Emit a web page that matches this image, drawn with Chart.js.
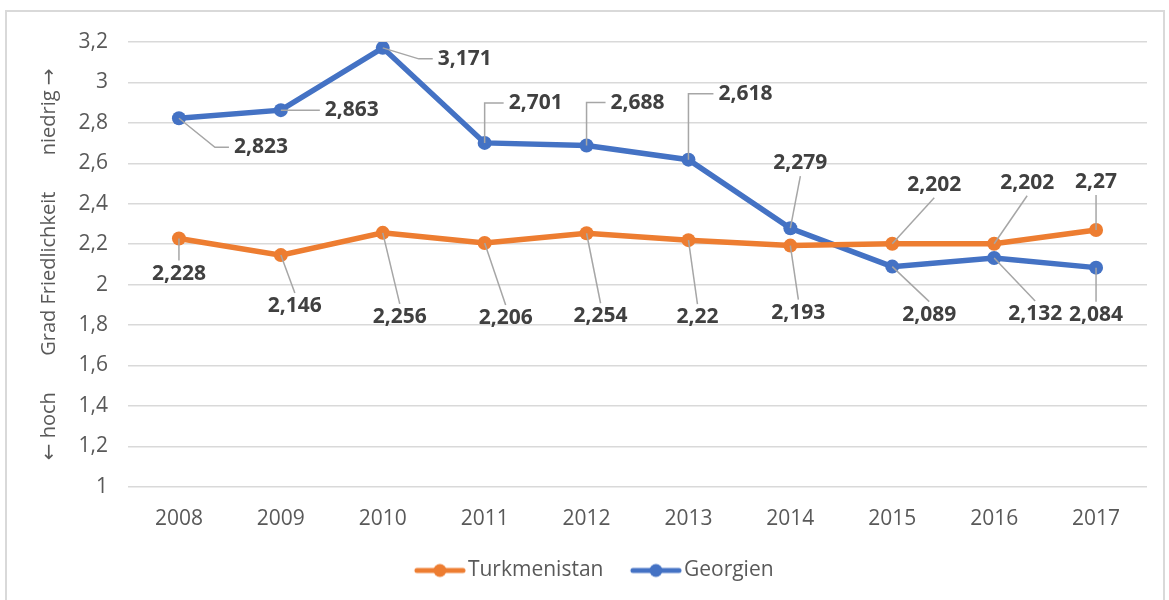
<!DOCTYPE html>
<html>
<head>
<meta charset="utf-8">
<script src="https://cdn.jsdelivr.net/npm/chart.js@4"></script>
<style>
  html, body { margin: 0; padding: 0; background: #fff; }
  #frame { position: absolute; left: 5px; top: 10px; width: 1160px; height: 600px; border: 2px solid #d9d9d9; box-sizing: border-box; }
  #wrap { position: absolute; left: 0; top: 0; width: 1169px; height: 600px; }
</style>
</head>
<body>
<div id="frame"></div>
<div id="wrap"><canvas id="c"></canvas></div>
<script>
/* ===== Daten ===== */
const years = ['2008', '2009', '2010', '2011', '2012', '2013', '2014', '2015', '2016', '2017'];
const turkmenistan = [2.228, 2.146, 2.256, 2.206, 2.254, 2.22, 2.193, 2.202, 2.202, 2.27];
const georgien = [2.823, 2.863, 3.171, 2.701, 2.688, 2.618, 2.279, 2.089, 2.132, 2.084];

const ORANGE = '#ED7D31';
const BLUE = '#4472C4';
const FONT = '"Open Sans", "Noto Sans", sans-serif';

/* Label-Versatz in Pixel (Mitte relativ zum Punkt) + Art der Führungslinie
   h = schräg + waagrecht zur Seite, v = senkrecht + waagrecht, d = direkt zur Ober-/Unterkante */
const labelOffsets = {
  Turkmenistan: [[0, 35, 'd'], [14, 51, 'd'], [17, 84, 'd'], [21, 75, 'd'], [14, 83, 'd'], [9, 77, 'd'], [8, 67, 'd'], [42, -59, 'd'], [33, -61, 'd'], [0, -48, 'd']],
  Georgien: [[82, 29, 'h'], [71, 0, 'h'], [82, 11, 'h'], [51, -40, 'v'], [51, -43, 'v'], [57, -66, 'v'], [10, -65, 'd'], [37, 48, 'd'], [41, 56, 'd'], [0, 47, 'd']],
};

const fmt = v => String(Number(v.toFixed(3))).replace('.', ',');

/* Legendensymbol: Linie mit Punkt (links Leerraum, damit der Text näher rückt) */
function legendIcon(color) {
  const c = document.createElement('canvas');
  c.width = 71; c.height = 16;
  const x = c.getContext('2d');
  x.strokeStyle = color; x.lineWidth = 5; x.lineCap = 'round';
  x.beginPath(); x.moveTo(22, 8); x.lineTo(68, 8); x.stroke();
  x.fillStyle = color;
  x.beginPath(); x.arc(45, 8, 6.5, 0, Math.PI * 2); x.fill();
  return c;
}

/* Datenbeschriftungen mit Führungslinien */
const leaderLabels = {
  id: 'leaderLabels',
  afterDatasetsDraw(chart) {
    const ctx = chart.ctx;
    ctx.save();
    ctx.font = 'bold 21px ' + FONT;
    ctx.textAlign = 'center';
    ctx.textBaseline = 'middle';
    chart.data.datasets.forEach((ds, di) => {
      const meta = chart.getDatasetMeta(di);
      const offs = labelOffsets[ds.label];
      meta.data.forEach((pt, i) => {
        const txt = fmt(ds.data[i]);
        const [dx, dy, mode] = offs[i];
        const lx = pt.x + dx, ly = pt.y + dy;
        const hw = ctx.measureText(txt).width / 2 + 5, hh = 13;
        const pts = [[pt.x, pt.y]];
        if (mode === 'h') {
          const ex = dx > 0 ? lx - hw : lx + hw;
          pts.push([ex - Math.sign(dx) * 14, ly], [ex, ly]);
        } else if (mode === 'v') {
          const ex = dx > 0 ? lx - hw : lx + hw;
          pts.push([pt.x, ly], [ex, ly]);
        } else {
          pts.push([lx, dy > 0 ? ly - hh : ly + hh]);
        }
        const last = pts[pts.length - 1];
        if (Math.hypot(last[0] - pt.x, last[1] - pt.y) > 20) {
          ctx.strokeStyle = '#a6a6a6';
          ctx.lineWidth = 1.5;
          ctx.beginPath();
          pts.forEach((p, k) => k ? ctx.lineTo(p[0], p[1]) : ctx.moveTo(p[0], p[1]));
          ctx.stroke();
        }
        ctx.fillStyle = '#404040';
        ctx.fillText(txt, lx, ly);
      });
    });
    ctx.restore();
  },
};

const ctx = document.getElementById('c').getContext('2d');
new Chart(ctx, {
  type: 'line',
  data: {
    labels: years,
    datasets: [
      { label: 'Turkmenistan', data: turkmenistan, borderColor: ORANGE, backgroundColor: ORANGE,
        borderWidth: 5.5, pointRadius: 7, pointBackgroundColor: ORANGE, pointBorderWidth: 0, tension: 0 },
      { label: 'Georgien', data: georgien, borderColor: BLUE, backgroundColor: BLUE,
        borderWidth: 5.5, pointRadius: 7, pointBackgroundColor: BLUE, pointBorderWidth: 0, tension: 0 },
    ],
  },
  options: {
    responsive: true,
    maintainAspectRatio: false,
    animation: false,
    layout: { padding: { top: 42, right: 22, left: 30, bottom: 9 } },
    plugins: {
      legend: {
        position: 'bottom',
        labels: {
          color: '#595959', font: { size: 21, family: FONT }, padding: 16,
          usePointStyle: true, pointStyleWidth: 54, boxHeight: 16,
          generateLabels: ch => ch.data.datasets.map((ds, i) => ({
            text: ds.label, fontColor: '#595959', pointStyle: legendIcon(ds.borderColor),
            datasetIndex: i, lineWidth: 0, strokeStyle: 'transparent', fillStyle: 'transparent',
          })),
        },
      },
      tooltip: { enabled: false },
    },
    scales: {
      x: {
        offset: true,
        grid: { display: false },
        border: { display: false },
        ticks: { color: '#595959', font: { size: 21, family: FONT }, padding: 12 },
      },
      y: {
        min: 1, max: 3.2,
        grid: { color: '#d9d9d9', lineWidth: 1.5, drawTicks: false },
        border: { display: false },
        ticks: { stepSize: 0.2, color: '#595959', font: { size: 21, family: FONT }, padding: 20,
          callback: v => String(Number(v.toFixed(1))).replace('.', ',') },
        title: { display: true, text: '← hoch       Grad Friedlichkeit       niedrig →', color: '#595959',
          font: { size: 20, family: '"Open Sans", "DejaVu Sans", sans-serif' }, padding: { top: 7, bottom: 6 } },
        afterFit: s => { s.width = 98; },
      },
    },
  },
  plugins: [leaderLabels],
});
</script>
</body>
</html>
